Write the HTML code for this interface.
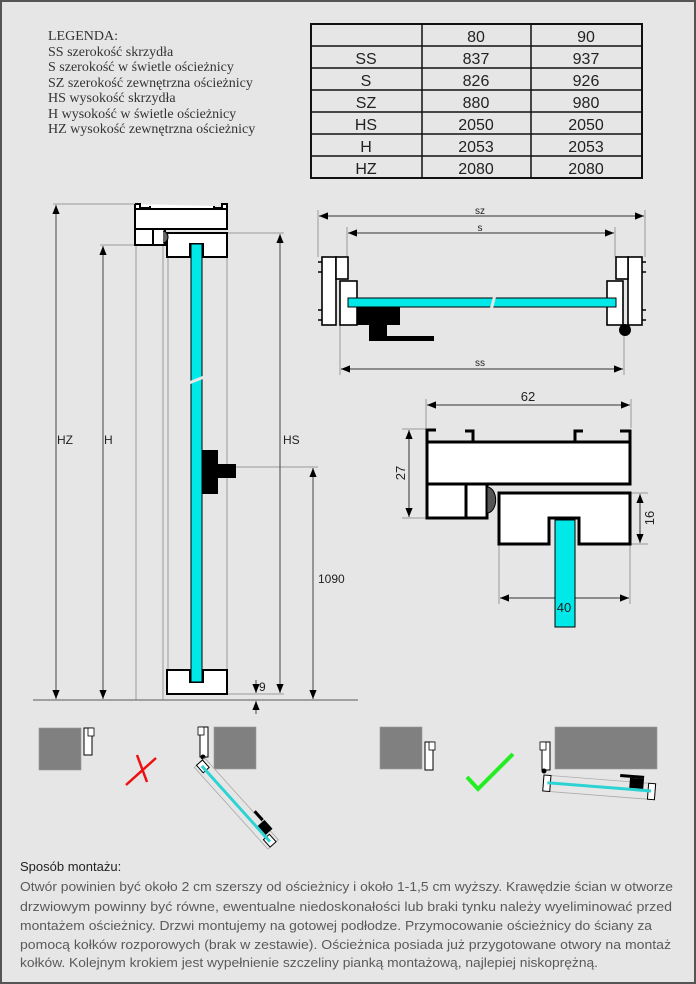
<!DOCTYPE html>
<html><head><meta charset="utf-8"><style>
html,body{margin:0;padding:0;background:#e6e6e6;}
svg{display:block;}
</style></head><body>
<svg width="696" height="984" viewBox="0 0 696 984" xmlns="http://www.w3.org/2000/svg">
<defs>
<marker id="a" viewBox="0 0 10 10" refX="10" refY="5" markerWidth="9" markerHeight="9" markerUnits="userSpaceOnUse" orient="auto-start-reverse"><path d="M0,1 L10,5 L0,9 Z" fill="#000"/></marker>
</defs>
<rect x="0" y="0" width="696" height="984" fill="#e6e6e6"/>
<rect x="1" y="1" width="694" height="982" fill="none" stroke="#555" stroke-width="2"/>

<!-- Legend -->
<g font-family="Liberation Serif, serif" font-size="14" fill="#333">
<text x="48" y="40">LEGENDA:</text>
<text x="48" y="56">SS szerokość skrzydła</text>
<text x="48" y="71">S szerokość w świetle ościeżnicy</text>
<text x="48" y="87">SZ szerokość zewnętrzna ościeżnicy</text>
<text x="48" y="102">HS wysokość skrzydła</text>
<text x="48" y="118">H wysokość w świetle ościeżnicy</text>
<text x="48" y="133">HZ wysokość zewnętrzna ościeżnicy</text>
</g>

<!-- Table -->
<g stroke="#111" stroke-width="1.5" fill="none">
<rect x="311" y="24" width="331" height="154" stroke-width="2"/>
<line x1="422" y1="24" x2="422" y2="178"/><line x1="531" y1="24" x2="531" y2="178"/>
<line x1="311" y1="46" x2="642" y2="46"/><line x1="311" y1="68" x2="642" y2="68"/>
<line x1="311" y1="90" x2="642" y2="90"/><line x1="311" y1="112" x2="642" y2="112"/>
<line x1="311" y1="134" x2="642" y2="134"/><line x1="311" y1="156" x2="642" y2="156"/>
</g>
<g font-family="Liberation Sans, sans-serif" font-size="16" fill="#222" text-anchor="middle">
<text x="476" y="42">80</text><text x="586" y="42">90</text>
<text x="366" y="64">SS</text><text x="476" y="64">837</text><text x="586" y="64">937</text>
<text x="366" y="86">S</text><text x="476" y="86">826</text><text x="586" y="86">926</text>
<text x="366" y="108">SZ</text><text x="476" y="108">880</text><text x="586" y="108">980</text>
<text x="366" y="130">HS</text><text x="476" y="130">2050</text><text x="586" y="130">2050</text>
<text x="366" y="152">H</text><text x="476" y="152">2053</text><text x="586" y="152">2053</text>
<text x="366" y="174">HZ</text><text x="476" y="174">2080</text><text x="586" y="174">2080</text>
</g>

<!-- Left elevation -->
<g stroke="#999" stroke-width="1" fill="none">
<line x1="53" y1="204" x2="135" y2="204"/>
<line x1="100" y1="245" x2="135" y2="245"/>
<line x1="136" y1="245" x2="136" y2="700"/>
<line x1="163" y1="245" x2="163" y2="700"/>
<line x1="168" y1="257" x2="168" y2="670"/>
<line x1="227" y1="257" x2="227" y2="670"/>
<line x1="227" y1="233" x2="284" y2="233"/>
<line x1="227" y1="694" x2="284" y2="694"/>
<line x1="236" y1="467" x2="318" y2="467"/>
</g>
<line x1="33" y1="700" x2="358" y2="700" stroke="#777" stroke-width="1.2"/>
<g stroke="#444" stroke-width="1" fill="none">
<line x1="56" y1="205" x2="56" y2="699" marker-start="url(#a)" marker-end="url(#a)"/>
<line x1="103" y1="246" x2="103" y2="699" marker-start="url(#a)" marker-end="url(#a)"/>
<line x1="280" y1="234" x2="280" y2="693" marker-start="url(#a)" marker-end="url(#a)"/>
<line x1="313" y1="468" x2="313" y2="699" marker-start="url(#a)" marker-end="url(#a)"/>
<line x1="256" y1="680" x2="256" y2="693" marker-end="url(#a)"/>
<line x1="256" y1="714" x2="256" y2="701" marker-end="url(#a)"/>
</g>
<g font-family="Liberation Sans, sans-serif" font-size="12" fill="#222">
<text x="57" y="444">HZ</text><text x="104" y="444">H</text><text x="283" y="444">HS</text>
<text x="318" y="583">1090</text><text x="259" y="691">9</text>
</g>
<!-- frame top -->
<g stroke="#000" stroke-width="2" fill="#fff">
<path d="M135,204 V229 H227 V204 H222 V208 H214 V206 M135,204 H140 V208 H150 V206" />
<rect x="135" y="209" width="92" height="20"/>
<rect x="135" y="229" width="30" height="16"/>
<line x1="153" y1="229" x2="153" y2="245"/>
<path d="M167,233 H227 V257 H203 V244 H190 V257 H167 Z"/>
<path d="M167,670 H190 V682 H203 V670 H227 V694 H167 Z"/>
</g>
<path d="M163,231 A5,6 0 0 1 163,243" fill="#666" stroke="#000"/>
<rect x="191" y="244" width="11" height="438" fill="#00e8e8" stroke="#000" stroke-width="1"/>
<path d="M189,383 L204,377" stroke="#e6e6e6" stroke-width="3"/>
<rect x="202" y="450" width="16" height="44" fill="#000"/>
<rect x="217" y="464" width="19" height="14" fill="#000"/>

<!-- Top-right plan -->
<g stroke="#999" stroke-width="1" fill="none">
<line x1="318" y1="210" x2="318" y2="257"/><line x1="645" y1="210" x2="645" y2="257"/>
<line x1="347" y1="227" x2="347" y2="257"/><line x1="615" y1="227" x2="615" y2="257"/>
<line x1="340" y1="325" x2="340" y2="375"/><line x1="624" y1="330" x2="624" y2="375"/>
</g>
<g stroke="#333" stroke-width="1" fill="none">
<line x1="319" y1="216" x2="644" y2="216" marker-start="url(#a)" marker-end="url(#a)"/>
<line x1="348" y1="233" x2="614" y2="233" marker-start="url(#a)" marker-end="url(#a)"/>
<line x1="341" y1="369" x2="623" y2="369" marker-start="url(#a)" marker-end="url(#a)"/>
</g>
<g font-family="Liberation Sans, sans-serif" font-size="10" fill="#222" text-anchor="middle">
<text x="480" y="214">sz</text><text x="480" y="231">s</text><text x="480" y="366">ss</text>
</g>
<g stroke="#000" stroke-width="1.6" fill="#fff">
<rect x="322" y="257" width="14" height="68"/>
<rect x="336" y="257" width="12" height="22"/>
<path d="M318,262 H322 M318,272 H322 M318,310 H322 M318,320 H322" fill="none"/>
<rect x="340" y="281" width="17" height="44"/>
<rect x="628" y="257" width="14" height="68"/>
<rect x="616" y="257" width="12" height="22"/>
<path d="M642,262 H646 M642,272 H646 M642,310 H646 M642,320 H646" fill="none"/>
<rect x="607" y="281" width="16" height="44"/>
</g>
<rect x="348" y="298" width="268" height="9" fill="#00e8e8" stroke="#000" stroke-width="1"/>
<path d="M491,310 L495,295" stroke="#e6e6e6" stroke-width="3"/>
<rect x="357" y="307" width="43" height="18" fill="#000"/>
<path d="M369,325 H387 V336 H434 V341 H369 Z" fill="#000"/>
<circle cx="625" cy="330" r="6" fill="#000"/>

<!-- Detail section -->
<g stroke="#999" stroke-width="1" fill="none">
<line x1="426" y1="399" x2="426" y2="428"/><line x1="631" y1="399" x2="631" y2="428"/>
<line x1="402" y1="429" x2="426" y2="429"/><line x1="402" y1="518" x2="426" y2="518"/>
<line x1="630" y1="493" x2="648" y2="493"/><line x1="630" y1="544" x2="648" y2="544"/>
<line x1="499" y1="544" x2="499" y2="604"/><line x1="630" y1="544" x2="630" y2="604"/>
</g>
<g stroke="#333" stroke-width="1" fill="none">
<line x1="427" y1="405" x2="630" y2="405" marker-start="url(#a)" marker-end="url(#a)"/>
<line x1="409" y1="430" x2="409" y2="517" marker-start="url(#a)" marker-end="url(#a)"/>
<line x1="640" y1="494" x2="640" y2="543" marker-start="url(#a)" marker-end="url(#a)"/>
<line x1="500" y1="598" x2="629" y2="598" marker-start="url(#a)" marker-end="url(#a)"/>
</g>
<g stroke="#000" stroke-width="3" fill="#fff">
<rect x="427" y="442" width="203" height="42"/>
<rect x="427" y="484" width="60" height="34"/>
<line x1="466" y1="484" x2="466" y2="518"/>
<path d="M427,442 V430 H436 M465,431 H473 V442 M583,431 H575 V442 M620,431 H630 V442" fill="none"/>
<path d="M499,493 H630 V544 H579 V518 H549 V544 H499 Z"/>
</g>
<path d="M487,487 A8,12 0 0 1 487,513 Z" fill="#555" stroke="#000" stroke-width="1"/>
<rect x="555" y="520" width="20" height="107" fill="#00e8e8" stroke="#000" stroke-width="1"/>
<g font-family="Liberation Sans, sans-serif" font-size="13" fill="#222" text-anchor="middle">
<text x="528" y="401">62</text>
<text x="564" y="612">40</text>
<text transform="translate(405,473) rotate(-90)">27</text>
<text transform="translate(654,518) rotate(-90)">16</text>
</g>

<!-- Bottom icons -->
<rect x="39" y="728" width="42" height="42" fill="#808080" stroke="#999" stroke-width="0.6"/>
<rect x="84" y="728" width="8" height="27" fill="#fff" stroke="#000" stroke-width="1"/>
<rect x="88" y="728" width="6" height="8" fill="#fff" stroke="#000" stroke-width="0.8"/>
<path d="M156,758 L126,785 M137,755 L147,782" stroke="#ee1111" stroke-width="2.5" fill="none"/>
<rect x="214" y="727" width="42" height="42" fill="#808080" stroke="#999" stroke-width="0.6"/>
<rect x="200" y="727" width="8" height="30" fill="#fff" stroke="#000" stroke-width="1"/>
<rect x="198" y="727" width="6" height="8" fill="#fff" stroke="#000" stroke-width="0.8"/>
<circle cx="203" cy="757" r="2.5" fill="#000"/>
<g transform="translate(198,764) rotate(48)">
<rect x="0" y="-9" width="110" height="14" fill="none" stroke="#aaa" stroke-width="0.8"/>
<rect x="0" y="-6" width="10" height="8" fill="#fff" stroke="#000" stroke-width="1"/>
<rect x="100" y="-6" width="10" height="8" fill="#fff" stroke="#000" stroke-width="1"/>
<rect x="4" y="-3" width="102" height="3" fill="#2dd3d3"/>
<rect x="86" y="-12" width="12" height="9" fill="#000"/>
<rect x="78" y="-16" width="3" height="12" fill="#000" transform="rotate(-90 79 -10)"/>
</g>
<rect x="380" y="727" width="42" height="42" fill="#808080" stroke="#999" stroke-width="0.6"/>
<rect x="425" y="742" width="8" height="28" fill="#fff" stroke="#000" stroke-width="1"/>
<rect x="429" y="742" width="6" height="8" fill="#fff" stroke="#000" stroke-width="0.8"/>
<path d="M467,777 L478,789 L513,754" stroke="#22ee22" stroke-width="4" fill="none"/>
<rect x="555" y="727" width="102" height="42" fill="#808080" stroke="#999" stroke-width="0.6"/>
<rect x="542" y="742" width="8" height="28" fill="#fff" stroke="#000" stroke-width="1"/>
<rect x="540" y="742" width="6" height="8" fill="#fff" stroke="#000" stroke-width="0.8"/>
<circle cx="544" cy="771" r="2.5" fill="#000"/>
<g transform="translate(544,775) rotate(4.5)">
<rect x="0" y="0" width="112" height="16" fill="none" stroke="#aaa" stroke-width="0.8"/>
<rect x="0" y="0" width="7" height="16" fill="#fff" stroke="#000" stroke-width="1"/>
<rect x="105" y="0" width="7" height="16" fill="#fff" stroke="#000" stroke-width="1"/>
<rect x="4" y="6" width="104" height="3" fill="#2dd3d3"/>
<rect x="86" y="-4" width="14" height="10" fill="#000"/>
<rect x="76" y="-7" width="24" height="3" fill="#000"/>
</g>

<!-- Text -->
<g font-family="Liberation Sans, sans-serif" font-size="13">
<text x="20" y="871" fill="#222">Sposób montażu:</text>
<g fill="#5a5a5a">
<text x="20" y="891" textLength="653" lengthAdjust="spacingAndGlyphs">Otwór powinien być około 2 cm szerszy od ościeżnicy i około 1-1,5 cm wyższy. Krawędzie ścian w otworze</text>
<text x="20" y="911" textLength="652" lengthAdjust="spacingAndGlyphs">drzwiowym powinny być równe, ewentualne niedoskonałości lub braki tynku należy wyeliminować przed</text>
<text x="20" y="930" textLength="632" lengthAdjust="spacingAndGlyphs">montażem ościeżnicy. Drzwi montujemy na gotowej podłodze. Przymocowanie ościeżnicy do ściany za</text>
<text x="20" y="949" textLength="651" lengthAdjust="spacingAndGlyphs">pomocą kołków rozporowych (brak w zestawie). Ościeżnica posiada już przygotowane otwory na montaż</text>
<text x="20" y="967" textLength="578" lengthAdjust="spacingAndGlyphs">kołków. Kolejnym krokiem jest wypełnienie szczeliny pianką montażową, najlepiej niskoprężną.</text>
</g>
</g>
</svg>
</body></html>
